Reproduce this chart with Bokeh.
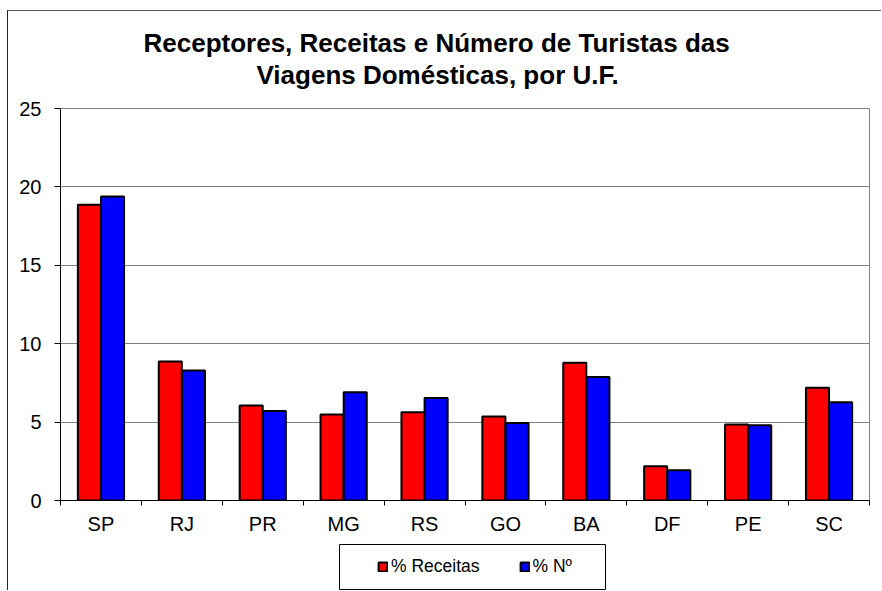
from bokeh.plotting import figure
from bokeh.layouts import column
from bokeh.models import (LinearAxis, FixedTicker, Range1d, Legend, LegendItem,
                          Title, FactorRange, ColumnDataSource, Grid, BoxAnnotation)
from bokeh.transform import dodge
from bokeh.embed import file_html
from bokeh.resources import INLINE

# ---- data ----
states = ["SP", "RJ", "PR", "MG", "RS", "GO", "BA", "DF", "PE", "SC"]
receitas = [18.86, 8.86, 6.06, 5.48, 5.63, 5.36, 8.78, 2.19, 4.85, 7.19]
numero = [19.39, 8.29, 5.70, 6.91, 6.53, 4.95, 7.88, 1.93, 4.80, 6.27]
y_ticks = [0, 5, 10, 15, 20, 25]
series_labels = ["% Receitas", "% Nº"]
series_colors = ["#FF0000", "#0000FF"]
title_lines = ["Receptores, Receitas e Número de Turistas das",
               "Viagens Domésticas, por U.F."]

FONT = "Liberation Sans"
W = 873
BL, BR = 52, 12          # left / right borders around the plotting frame
FW = W - BL - BR         # frame width in pixels

src = ColumnDataSource(dict(state=states, receitas=receitas, numero=numero))

# ---------------- main chart ----------------
p = figure(x_range=FactorRange(*states), y_range=Range1d(0, 25),
           width=W, height=527, output_backend="svg", toolbar_location=None,
           x_axis_type=None, y_axis_type=None,
           min_border_left=BL, min_border_right=BR, min_border_top=97,
           min_border_bottom=38)
p.background_fill_color = "white"
p.border_fill_color = "white"
p.outline_line_color = "#808080"
p.outline_line_width = 1

yt = FixedTicker(ticks=y_ticks)
yax = LinearAxis(ticker=yt)
yax.axis_line_color = "black"
yax.major_tick_line_color = "black"
yax.major_tick_out = 6
yax.major_tick_in = 0
yax.minor_tick_line_color = None
yax.major_label_text_font = FONT
yax.major_label_text_font_size = "20px"
yax.major_label_text_color = "black"
yax.major_label_standoff = 13
p.add_layout(yax, "left")
p.add_layout(Grid(dimension=1, ticker=yt, grid_line_color="#808080", grid_line_width=1))

n = len(states)
xt = FixedTicker(ticks=[i + 0.5 for i in range(n)], minor_ticks=list(range(n + 1)))
xax = LinearAxis(ticker=xt)
xax.major_label_overrides = {i + 0.5: s for i, s in enumerate(states)}
xax.axis_line_color = "black"
xax.major_tick_in = 0
xax.major_tick_out = 0
xax.major_tick_line_color = None
xax.minor_tick_in = 0
xax.minor_tick_out = 5
xax.minor_tick_line_color = "black"
xax.major_label_text_font = FONT
xax.major_label_text_font_size = "20px"
xax.major_label_text_color = "black"
xax.major_label_standoff = 7
p.add_layout(xax, "below")

bw = 0.285
p.vbar(x=dodge("state", -0.143, range=p.x_range), top="receitas", width=bw,
       source=src, fill_color=series_colors[0], line_color="black", line_width=2)
p.vbar(x=dodge("state", 0.143, range=p.x_range), top="numero", width=bw,
       source=src, fill_color=series_colors[1], line_color="black", line_width=2)

spacer = Title(text=" ", text_font_size="10px", standoff=6)
t2 = Title(text=title_lines[1], align="left", offset=196, text_font=FONT,
           text_font_size="26px", text_font_style="bold", text_color="black",
           standoff=0)
t1 = Title(text=title_lines[0], align="left", offset=83, text_font=FONT,
           text_font_size="26px", text_font_style="bold", text_color="black",
           standoff=0)
p.add_layout(spacer, "above")
p.add_layout(t2, "above")
p.add_layout(t1, "above")

# ---------------- legend strip (pixel-unit ranges) ----------------
H2 = 52
q = figure(x_range=Range1d(0, FW), y_range=Range1d(0, H2), width=W, height=H2,
           output_backend="svg", toolbar_location=None,
           x_axis_type=None, y_axis_type=None,
           min_border_left=BL, min_border_right=BR, min_border_top=0,
           min_border_bottom=0)
q.outline_line_color = None
q.background_fill_color = "white"
q.border_fill_color = "white"
q.add_layout(BoxAnnotation(left=279, right=545, bottom=1, top=46,
                           fill_color="white", fill_alpha=1,
                           line_color="black", line_width=1, line_alpha=1))
nan = float("nan")
g1 = q.vbar(x=[nan], top=[nan], width=1,
            fill_color=series_colors[0], line_color="black", line_width=2)
g2 = q.vbar(x=[nan], top=[nan], width=1,
            fill_color=series_colors[1], line_color="black", line_width=2)
legend = Legend(items=[LegendItem(label=series_labels[0], renderers=[g1]),
                       LegendItem(label=series_labels[1], renderers=[g2])],
                orientation="horizontal", location=(317, 13), padding=4,
                spacing=39, label_standoff=3, glyph_width=11, glyph_height=11,
                margin=0, border_line_color=None, background_fill_alpha=0,
                label_text_font=FONT, label_text_font_size="17.5px",
                label_text_color="black")
q.add_layout(legend, "center")

layout = column(p, q, spacing=0)
layout.styles = {"margin-left": "7px", "margin-top": "10px",
                 "border-left": "1px solid #222222", "border-top": "1px solid #555555"}

open("out.html", "w").write(file_html(layout, INLINE))
